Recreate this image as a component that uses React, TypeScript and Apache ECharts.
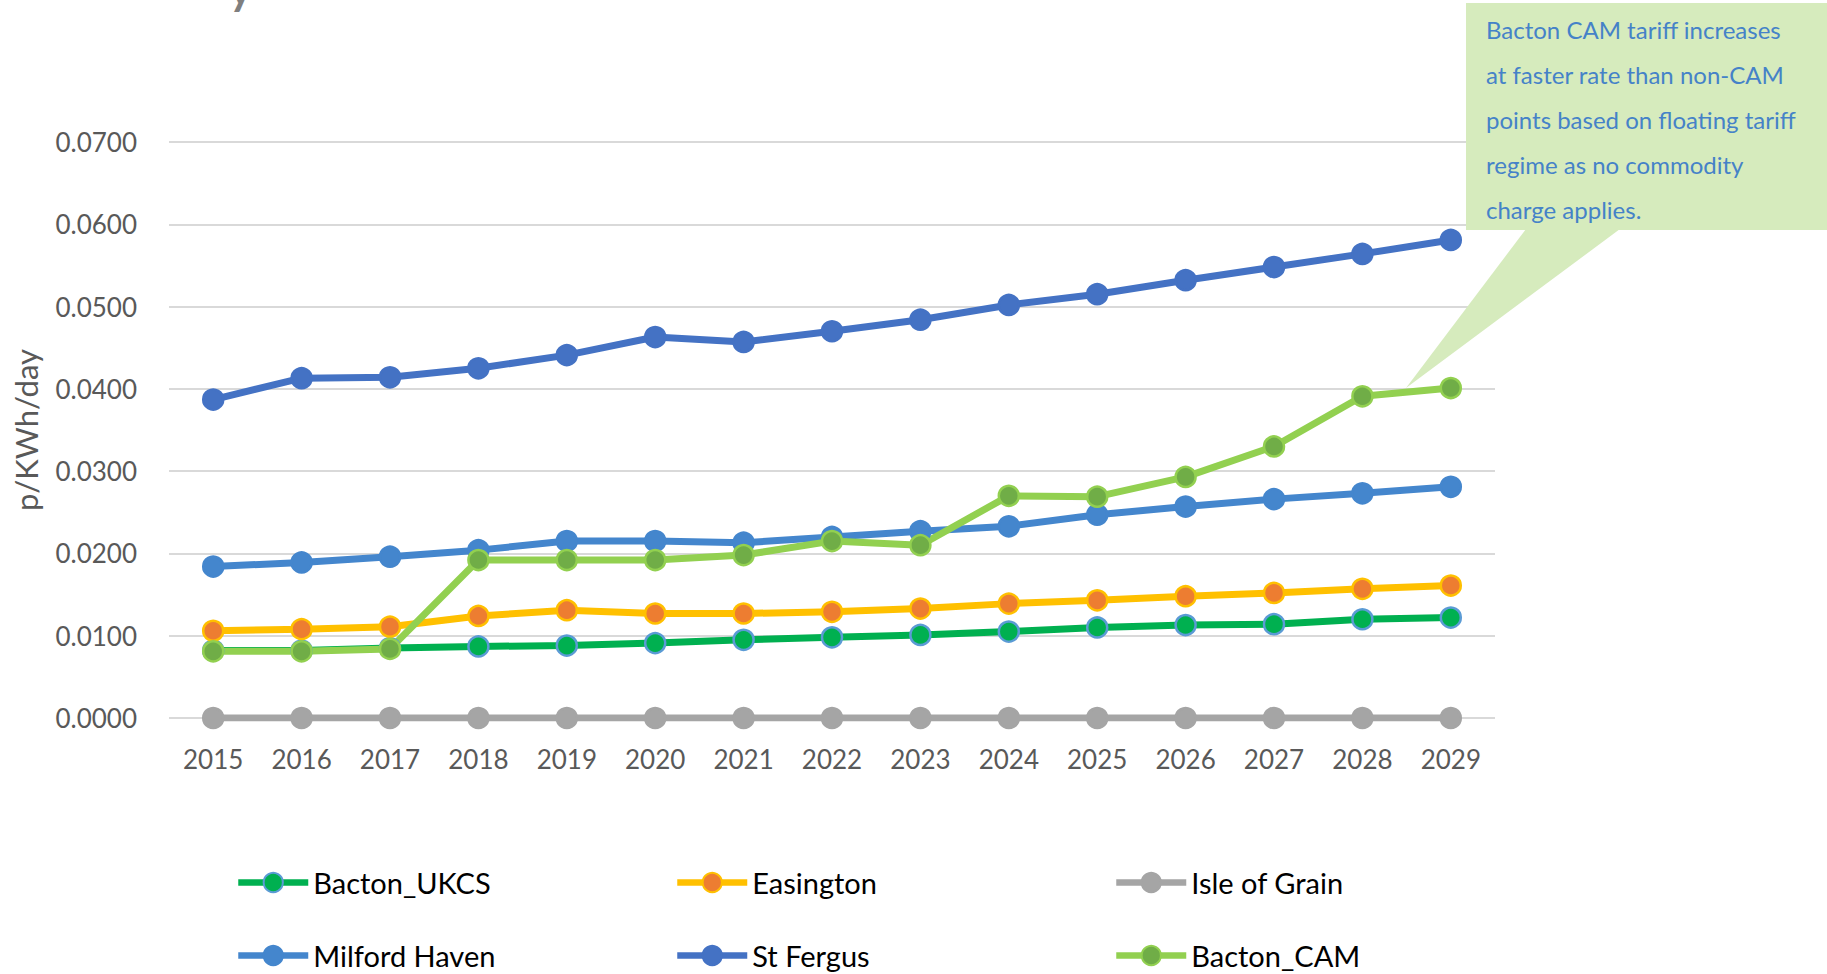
import React, { useEffect, useRef } from "react";
import * as echarts from "echarts";

// Entry tariffs by year, p/KWh/day
const years = ["2015", "2016", "2017", "2018", "2019", "2020", "2021", "2022", "2023", "2024", "2025", "2026", "2027", "2028", "2029"];

const bactonUKCS = [0.0082, 0.0082, 0.0085, 0.0087, 0.0088, 0.0091, 0.0095, 0.0098, 0.0101, 0.0105, 0.011, 0.0113, 0.0114, 0.012, 0.0122];
const easington = [0.0106, 0.0108, 0.0111, 0.0124, 0.0131, 0.0127, 0.0127, 0.0129, 0.0133, 0.0139, 0.0143, 0.0148, 0.0152, 0.0157, 0.0161];
const isleOfGrain = [0, 0, 0, 0, 0, 0, 0, 0, 0, 0, 0, 0, 0, 0, 0];
const milfordHaven = [0.0184, 0.0189, 0.0196, 0.0204, 0.0215, 0.0215, 0.0213, 0.022, 0.0227, 0.0233, 0.0247, 0.0257, 0.0266, 0.0273, 0.0281];
const stFergus = [0.0387, 0.0413, 0.0414, 0.0425, 0.0441, 0.0463, 0.0457, 0.047, 0.0484, 0.0502, 0.0515, 0.0532, 0.0548, 0.0564, 0.0581];
const bactonCAM = [0.0081, 0.0081, 0.0084, 0.0192, 0.0192, 0.0192, 0.0198, 0.0215, 0.021, 0.027, 0.0269, 0.0293, 0.033, 0.0391, 0.0401];

const calloutLines = [
  "Bacton CAM tariff increases",
  "at faster rate than non-CAM",
  "points based on floating tariff",
  "regime as no commodity",
  "charge applies.",
];

const FONT = "Lato, 'Open Sans', sans-serif";

type SeriesDef = { name: string; data: number[]; line: string; fill: string; border: string };

const seriesDefs: SeriesDef[] = [
  { name: "Bacton_UKCS", data: bactonUKCS, line: "#00B050", fill: "#00B050", border: "#5B9BD5" },
  { name: "Easington", data: easington, line: "#FFC000", fill: "#ED7D31", border: "#FFC000" },
  { name: "Isle of Grain", data: isleOfGrain, line: "#A5A5A5", fill: "#A5A5A5", border: "#A5A5A5" },
  { name: "Milford Haven", data: milfordHaven, line: "#4486CD", fill: "#4486CD", border: "#4486CD" },
  { name: "St Fergus", data: stFergus, line: "#4472C4", fill: "#4472C4", border: "#4472C4" },
  { name: "Bacton_CAM", data: bactonCAM, line: "#92D050", fill: "#70AD47", border: "#92D050" },
];

// legend slots: three columns, two rows
const legendCols = [230, 669, 1108];
const legendRows = [863, 936];

export default function App() {
  const ref = useRef<HTMLDivElement>(null);

  useEffect(() => {
    if (!ref.current) return;
    const chart = echarts.init(ref.current, undefined, { renderer: "svg" });

    const legends = seriesDefs.map((s, i) => ({
      data: [s.name],
      left: legendCols[i % 3],
      top: legendRows[Math.floor(i / 3)],
      itemWidth: 70,
      itemHeight: 24,
      lineStyle: { width: 6.5 },
      textStyle: { fontFamily: FONT, fontSize: 29, color: "#000000" },
    }));

    chart.setOption({
      animation: false,
      backgroundColor: "#ffffff",
      grid: { left: 169, right: 332, top: 142, bottom: 256, containLabel: false },
      legend: legends,
      xAxis: {
        type: "category",
        data: years,
        boundaryGap: true,
        axisLine: { show: false },
        axisTick: { show: false },
        axisLabel: { fontFamily: FONT, fontSize: 26, color: "#595959", margin: 28 },
      },
      yAxis: {
        type: "value",
        min: 0,
        max: 0.07,
        interval: 0.01,
        name: "p/KWh/day",
        nameLocation: "middle",
        nameGap: 128,
        nameTextStyle: { fontFamily: FONT, fontSize: 31, color: "#595959" },
        axisLine: { show: false },
        axisTick: { show: false },
        axisLabel: {
          fontFamily: FONT,
          fontSize: 26,
          color: "#595959",
          margin: 32,
          formatter: (v: number) => v.toFixed(4),
        },
        splitLine: { lineStyle: { color: "#D9D9D9", width: 2 } },
      },
      series: seriesDefs.map((s) => ({
        name: s.name,
        type: "line",
        data: s.data,
        symbol: "circle",
        symbolSize: 20,
        lineStyle: { color: s.line, width: 7 },
        itemStyle: { color: s.fill, borderColor: s.border, borderWidth: 2.5 },
        emphasis: { disabled: true },
      })),
      graphic: [
        {
          type: "text",
          left: 229,
          top: -34,
          style: { text: "y", font: `bold 44px ${FONT}`, fill: "#7F7F7F" },
        },
        {
          type: "polygon",
          shape: { points: [[1526, 229], [1620, 229], [1406, 388]] },
          style: { fill: "#D6EBBD" },
          z: 10,
        },
        {
          type: "rect",
          shape: { x: 1466, y: 3, width: 370, height: 227 },
          style: { fill: "#D6EBBD" },
          z: 10,
        },
        {
          type: "text",
          x: 1486,
          y: 7,
          z: 11,
          style: {
            text: calloutLines.join("\n"),
            font: `24px ${FONT}`,
            lineHeight: 45,
            fill: "#4582C8",
            verticalAlign: "top",
          },
        },
      ],
    });

    return () => chart.dispose();
  }, []);

  return <div ref={ref} style={{ position: "fixed", left: 0, top: 0, width: 1827, height: 974 }} />;
}
